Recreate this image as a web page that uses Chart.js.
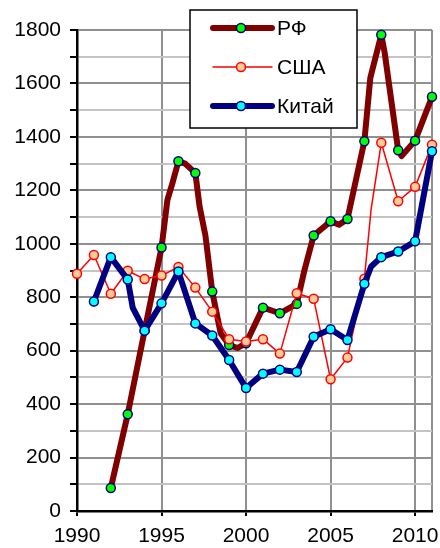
<!DOCTYPE html>
<html>
<head>
<meta charset="utf-8">
<script src="https://cdn.jsdelivr.net/npm/chart.js@4"></script>
<style>
  html, body { margin: 0; padding: 0; background: #fff; }
  #wrap { width: 440px; height: 548px; position: relative; }
</style>
</head>
<body>
<div id="wrap"><canvas id="chart"></canvas></div>
<script>
// Values; fractional years are unmarked bends of the line.
const rfYears = [1992, 1993, 1994, 1995, 1995.35, 1995.65, 1996, 1996.4, 1997, 1997.25, 1997.6, 1998, 1998.5, 1999, 1999.5, 2000,
  2001, 2002, 2003, 2003.45, 2004, 2005, 2005.5, 2006, 2007, 2007.35, 2008, 2008.2, 2009, 2009.2, 2010, 2011];
const rfValues = [86, 362, 675, 986, 1164, 1228, 1309, 1300, 1265, 1140, 1030, 821, 665, 621, 610, 628,
  761, 740, 775, 900, 1031, 1084, 1071, 1093, 1384, 1620, 1782, 1715, 1350, 1328, 1386, 1550];

const usaYears = [1990, 1991, 1992, 1993, 1994, 1995, 1996, 1997, 1998, 1999, 2000, 2001, 2002, 2003, 2004, 2005, 2006, 2007,
  2007.4, 2008, 2009, 2010, 2011];
const usaValues = [888, 958, 813, 899, 868, 881, 913, 836, 746, 643, 634, 643, 589, 815, 794, 493, 574, 869,
  1130, 1378, 1159, 1213, 1371];

const chinaYears = [1991, 1992, 1993, 1993.3, 1994, 1995, 1996, 1997, 1998, 1999, 2000, 2001, 2002, 2003, 2004, 2005, 2006, 2007,
  2007.4, 2008, 2009, 2010, 2011];
const chinaValues = [784, 950, 866, 760, 675, 777, 896, 702, 657, 565, 460, 514, 529, 520, 652, 680, 640, 850,
  915, 950, 971, 1009, 1346];

const seriesLabels = ["РФ", "США", "Китай"];
const xTicks = [1990, 1995, 2000, 2005, 2010, 2011];

const FONT = "'Liberation Sans', Arial, sans-serif";
Chart.defaults.font.family = FONT;
Chart.defaults.font.size = 21;
Chart.defaults.color = "#000";

function points(years, values) {
  return years.map((x, i) => ({ x, y: values[i] }));
}

// Markers only on whole years.
function markerRadius(years) {
  return (ctx) => (Number.isInteger(years[ctx.dataIndex]) ? 4.5 : 0);
}

const legendBox = {
  id: "legendBox",
  afterDraw(chart, _args, opts) {
    const { ctx } = chart;
    ctx.save();
    ctx.fillStyle = "#fff";
    ctx.fillRect(opts.left, opts.top, opts.width, opts.height);
    ctx.strokeStyle = "#000";
    ctx.lineWidth = 1.5;
    ctx.strokeRect(opts.left, opts.top, opts.width, opts.height);
    chart.data.datasets.forEach((ds, i) => {
      const y = opts.top + opts.firstRow + i * opts.rowGap;
      ctx.strokeStyle = ds.borderColor;
      ctx.lineWidth = ds.borderWidth;
      ctx.lineCap = "round";
      ctx.beginPath();
      ctx.moveTo(opts.left + 23, y);
      ctx.lineTo(opts.left + 82, y);
      ctx.stroke();
      ctx.beginPath();
      ctx.arc(opts.left + 51, y, 4.5, 0, Math.PI * 2);
      ctx.fillStyle = ds.pointBackgroundColor;
      ctx.fill();
      ctx.lineWidth = 1.5;
      ctx.strokeStyle = ds.pointBorderColor;
      ctx.stroke();
      ctx.fillStyle = "#000";
      ctx.font = `21px ${FONT}`;
      ctx.textBaseline = "middle";
      ctx.fillText(ds.label, opts.left + 87, y + 1);
    });
    ctx.restore();
  },
};

new Chart(document.getElementById("chart"), {
  type: "line",
  data: {
    datasets: [
      {
        label: seriesLabels[0],
        data: points(rfYears, rfValues),
        borderColor: "#800000",
        borderWidth: 6,
        pointBackgroundColor: "#00ff00",
        pointBorderColor: "#000080",
        pointBorderWidth: 1.5,
        pointRadius: markerRadius(rfYears),
        order: 3,
      },
      {
        label: seriesLabels[1],
        data: points(usaYears, usaValues),
        borderColor: "#ff0000",
        borderWidth: 1.5,
        pointBackgroundColor: "#ffcc99",
        pointBorderColor: "#ff0000",
        pointBorderWidth: 1.5,
        pointRadius: markerRadius(usaYears),
        order: 2,
      },
      {
        label: seriesLabels[2],
        data: points(chinaYears, chinaValues),
        borderColor: "#000080",
        borderWidth: 6,
        pointBackgroundColor: "#00ffff",
        pointBorderColor: "#000080",
        pointBorderWidth: 1.5,
        pointRadius: markerRadius(chinaYears),
        order: 1,
      },
    ],
  },
  options: {
    responsive: true,
    maintainAspectRatio: false,
    animation: false,
    events: [],
    layout: { padding: { top: 30, right: 8 } },
    elements: {
      line: { borderJoinStyle: "round", borderCapStyle: "round", tension: 0 },
      point: { hoverRadius: 0 },
    },
    datasets: { line: { clip: false } },
    plugins: {
      legend: { display: false },
      tooltip: { enabled: false },
      legendBox: { left: 190, top: 10, width: 167, height: 118, firstRow: 18, rowGap: 39 },
    },
    scales: {
      x: {
        type: "linear",
        min: 1990,
        max: 2011,
        afterBuildTicks: (scale) => {
          scale.ticks = xTicks.map((value) => ({ value }));
        },
        afterFit: (scale) => {
          scale.height = 37;
        },
        ticks: {
          autoSkip: false,
          maxRotation: 0,
          padding: 8,
          callback: (v) => (v === 2011 ? "" : String(v)),
        },
        grid: {
          color: "#909090",
          lineWidth: 2,
          tickLength: 5,
          tickColor: (ctx) => (ctx.tick && ctx.tick.value === 2011 ? "rgba(0,0,0,0)" : "#000"),
          tickWidth: 2,
        },
        border: { color: "#000", width: 2.5 },
      },
      y: {
        min: 0,
        max: 1800,
        afterFit: (scale) => {
          scale.width = 77;
        },
        ticks: {
          stepSize: 100,
          autoSkip: false,
          padding: 9,
          callback: (v) => (v % 200 === 0 ? String(v) : ""),
        },
        grid: {
          color: (ctx) => (ctx.tick && ctx.tick.value % 200 === 0 ? "#909090" : "#c4c4c4"),
          lineWidth: 2,
          tickLength: 7,
          tickColor: "#000",
          tickWidth: 2,
        },
        border: { color: "#000", width: 2.5 },
      },
    },
  },
  plugins: [legendBox],
});
</script>
</body>
</html>
